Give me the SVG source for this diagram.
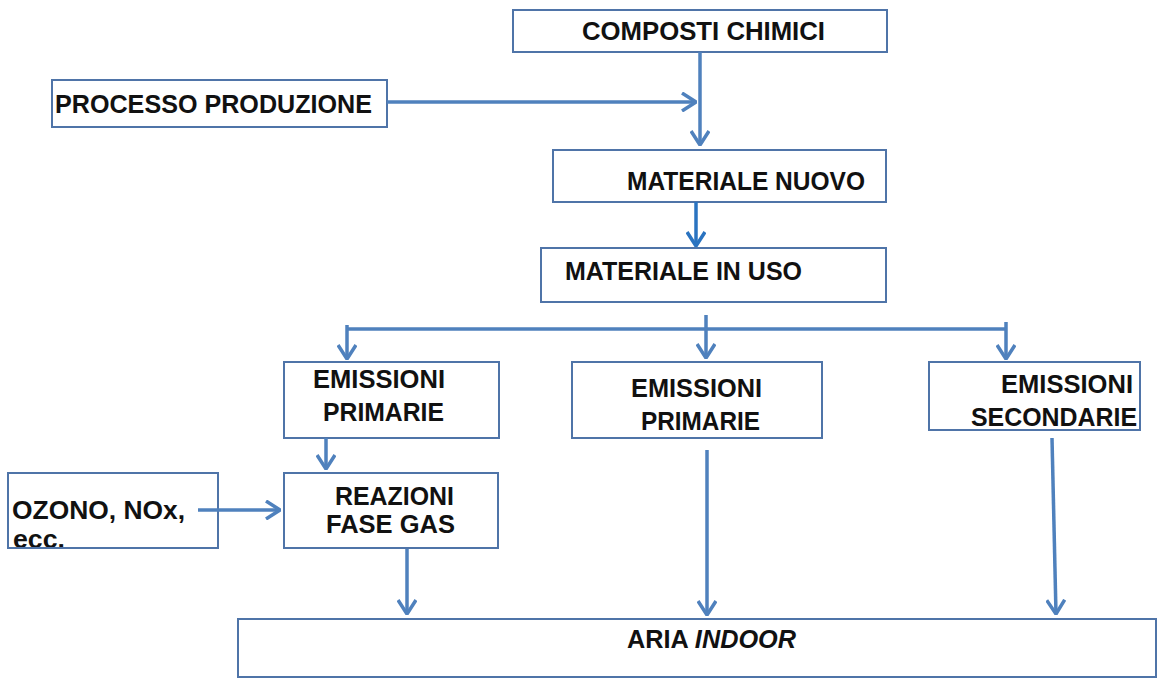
<svg xmlns="http://www.w3.org/2000/svg" width="1162" height="678" viewBox="0 0 1162 678">
<style>
.box{fill:#fff;stroke:#4F74A8;stroke-width:2}
.t{font-family:"Liberation Sans",Arial,sans-serif;font-weight:bold;font-size:25px;fill:#111}
.c{fill:none;stroke:#4F81BD;stroke-width:3.5;marker-end:url(#ah)}
.c2{fill:none;stroke:#2A73C0;stroke-width:3.5;marker-end:url(#ah2)}
.ln{fill:none;stroke:#4F81BD;stroke-width:3.5}
</style>
<defs>
<marker id="ah" viewBox="0 0 16 20" refX="15" refY="10" markerWidth="16" markerHeight="20" markerUnits="userSpaceOnUse" orient="auto">
<path d="M1,1 L15,10 L1,19" fill="none" stroke="#4F81BD" stroke-width="3.5"/>
</marker>
<marker id="ah2" viewBox="0 0 16 20" refX="15" refY="10" markerWidth="16" markerHeight="20" markerUnits="userSpaceOnUse" orient="auto">
<path d="M1,1 L15,10 L1,19" fill="none" stroke="#2A73C0" stroke-width="3.5"/>
</marker>
<clipPath id="ozclip"><rect x="8" y="473" width="210" height="75"/></clipPath>
</defs>
<rect width="1162" height="678" fill="#fff"/>

<g id="composti">
<rect class="box" x="513" y="10" width="374" height="42"/>
<text class="t" x="582" y="40" textLength="243" lengthAdjust="spacingAndGlyphs">COMPOSTI CHIMICI</text>
</g>
<g id="processo">
<rect class="box" x="52" y="80" width="335" height="47"/>
<text class="t" x="55" y="113" textLength="317" lengthAdjust="spacingAndGlyphs">PROCESSO PRODUZIONE</text>
</g>
<g id="materiale-nuovo">
<rect class="box" x="553" y="150" width="333" height="52"/>
<text class="t" x="627" y="190" textLength="238" lengthAdjust="spacingAndGlyphs">MATERIALE NUOVO</text>
</g>
<g id="materiale-uso">
<rect class="box" x="541" y="248" width="345" height="54"/>
<text class="t" x="565" y="280" textLength="237" lengthAdjust="spacingAndGlyphs">MATERIALE IN USO</text>
</g>
<g id="emissioni-primarie-1">
<rect class="box" x="284" y="362" width="215" height="76"/>
<text class="t" x="313" y="388" textLength="132" lengthAdjust="spacingAndGlyphs">EMISSIONI</text>
<text class="t" x="323" y="421" textLength="121" lengthAdjust="spacingAndGlyphs">PRIMARIE</text>
</g>
<g id="emissioni-primarie-2">
<rect class="box" x="572" y="362" width="250" height="76"/>
<text class="t" x="631" y="397" textLength="131" lengthAdjust="spacingAndGlyphs">EMISSIONI</text>
<text class="t" x="641" y="430" textLength="119" lengthAdjust="spacingAndGlyphs">PRIMARIE</text>
</g>
<g id="emissioni-secondarie">
<rect class="box" x="929" y="362" width="211" height="68"/>
<text class="t" x="1001" y="393" textLength="132" lengthAdjust="spacingAndGlyphs">EMISSIONI</text>
<text class="t" x="971" y="426" textLength="166" lengthAdjust="spacingAndGlyphs">SECONDARIE</text>
</g>
<g id="reazioni">
<rect class="box" x="284" y="473" width="214" height="75"/>
<text class="t" x="335" y="505" textLength="119" lengthAdjust="spacingAndGlyphs">REAZIONI</text>
<text class="t" x="326" y="533" textLength="129" lengthAdjust="spacingAndGlyphs">FASE GAS</text>
</g>
<g id="ozono">
<rect class="box" x="8" y="473" width="210" height="75"/>
<text class="t" x="12" y="519" textLength="173" lengthAdjust="spacingAndGlyphs">OZONO, NOx,</text>
<text class="t" x="13" y="548" font-size="20" textLength="52" lengthAdjust="spacingAndGlyphs" clip-path="url(#ozclip)">ecc.</text>
<rect x="8" y="473" width="210" height="75" fill="none" stroke="#4F74A8" stroke-width="2"/>
</g>
<g id="aria-indoor">
<rect class="box" x="238" y="619" width="918" height="58"/>
<text class="t" x="627" y="648" font-size="23" textLength="169" lengthAdjust="spacingAndGlyphs">ARIA <tspan font-style="italic">INDOOR</tspan></text>
</g>

<g id="connectors">
<path class="c" d="M700,52 V145"/>
<path class="c" d="M387,102 H696"/>
<path class="c2" d="M696,202 V246"/>
<path class="ln" d="M347,329 H1006"/>
<path class="c" d="M347,325 V359"/>
<path class="c" d="M706,315 V358"/>
<path class="c" d="M1006,322 V359"/>
<path class="c" d="M326,438 V469"/>
<path class="c" d="M198,510 H280"/>
<path class="c" d="M407,549 V614"/>
<path class="c" d="M707,450 V615"/>
<path class="c" d="M1052,438 L1056,614"/>
</g>
</svg>
